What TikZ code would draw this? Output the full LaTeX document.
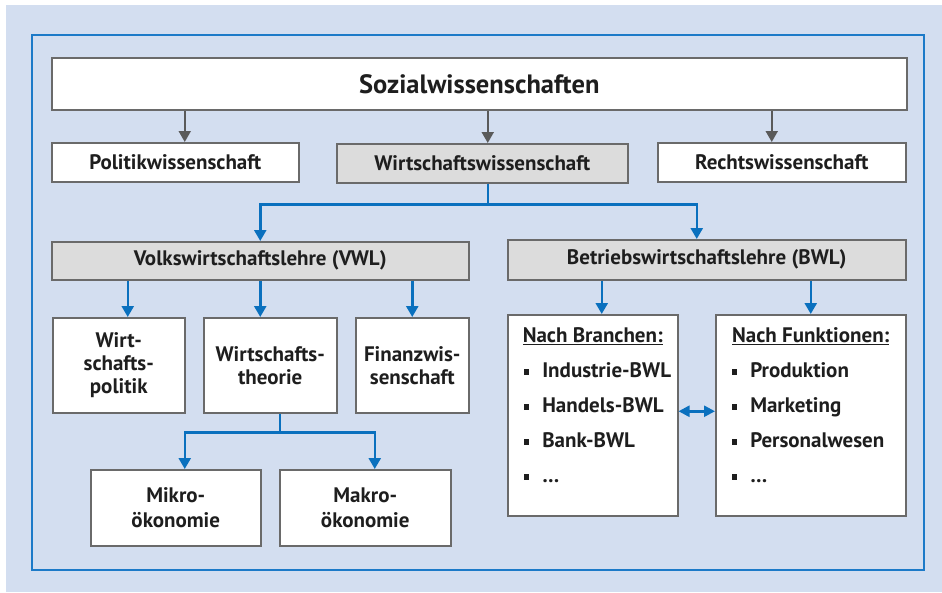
\documentclass[tikz,border=0pt]{standalone}
\usepackage{fontspec}
\setmainfont{PT Sans}
\usetikzlibrary{arrows.meta}

\definecolor{bgblue}{HTML}{D3DEF0}
\definecolor{frameblue}{HTML}{1C7AC8}
\definecolor{linkblue}{HTML}{0A70BE}
\definecolor{boxgray}{HTML}{6A6A6A}
\definecolor{arrowgray}{HTML}{5A5A5A}
\definecolor{fillgray}{HTML}{DCDCDC}
\definecolor{txtdark}{HTML}{1E1E1E}

% list entry with square bullet
\newcommand\listentry[1]{\hspace*{16pt}\rule[3pt]{5.5pt}{5.5pt}\hspace{13pt}\mbox{#1}\par}

\begin{document}
\begin{tikzpicture}[
    x=1pt, y=-1pt,
    box/.style={draw=boxgray, line width=1.5pt, fill=white, anchor=north west,
      inner sep=2pt, align=center, text=txtdark,
      font=\bfseries\fontsize{21}{23}\selectfont},
    graybox/.style={box, fill=fillgray},
    listbox/.style={box, inner sep=0pt, align=left,
      font=\bfseries\fontsize{21}{35}\selectfont},
    grayarrow/.style={draw=arrowgray, line width=2pt,
      -{Triangle[length=11pt,width=12pt]}},
    bluearrow/.style={draw=linkblue, line width=2.5pt,
      -{Triangle[length=11pt,width=12pt]}}
  ]
  \useasboundingbox (0,0) rectangle (942,592);

  % background and frame
  \fill [bgblue] (6,5) rectangle (942,592);
  \draw [frameblue, line width=1.5pt] (32,35) rectangle (924,570);

  % top levels
  \node [box, minimum width=855pt, minimum height=52pt,
    font=\bfseries\fontsize{26.5}{28}\selectfont] (soz) at (51,57) {Sozialwissenschaften};
  \node [box, minimum width=247pt, minimum height=39pt] (pol) at (51,142) {Politikwissenschaft};
  \node [graybox, minimum width=291pt, minimum height=39pt] (ww) at (336,143) {Wirtschaftswissenschaft};
  \node [box, minimum width=248pt, minimum height=39pt] (recht) at (657,142) {Rechtswissenschaft};

  \node [graybox, minimum width=417pt, minimum height=38pt] (vwl) at (51,241) {Volkswirtschaftslehre (VWL)};
  \node [graybox, minimum width=398pt, minimum height=40pt] (bwl) at (507,239) {Betriebswirtschaftslehre (BWL)};

  % VWL branches
  \node [box, minimum width=132pt, minimum height=95pt] (wpol) at (52,317) {Wirt-\\schafts-\\politik};
  \node [box, minimum width=133pt, minimum height=95pt] (wtheo) at (203,317) {Wirtschafts-\\theorie};
  \node [box, minimum width=113pt, minimum height=95pt] (finanz) at (355,317) {Finanzwis-\\senschaft};

  \node [box, minimum width=170pt, minimum height=76pt, font=\bfseries\fontsize{21}{25}\selectfont] (mikro) at (90,469) {Mikro-\\ökonomie};
  \node [box, minimum width=171pt, minimum height=76pt, font=\bfseries\fontsize{21}{25}\selectfont] (makro) at (279,469) {Makro-\\ökonomie};

  % BWL branches
  \node [listbox, minimum width=170pt, minimum height=201pt] (branchen) at (507,314) {%
    \begin{minipage}[t][201pt][t]{170pt}
      \vspace*{13pt}
      {\centering\underline{Nach Branchen:}\par}
      \listentry{Industrie-BWL}
      \listentry{Handels-BWL}
      \listentry{Bank-BWL}
      \listentry{\dots}
    \end{minipage}};
  \node [listbox, minimum width=190pt, minimum height=201pt] (funktionen) at (715,314) {%
    \begin{minipage}[t][201pt][t]{190pt}
      \vspace*{13pt}
      {\centering\underline{Nach Funktionen:}\par}
      \listentry{Produktion}
      \listentry{Marketing}
      \listentry{Personalwesen}
      \listentry{\dots}
    \end{minipage}};

  % gray arrows
  \draw [grayarrow] ([xshift=9.5pt]pol.north |- soz.south) -- ([xshift=9.5pt]pol.north);
  \draw [grayarrow] ([xshift=5.5pt]ww.north |- soz.south) -- ([xshift=5.5pt]ww.north);
  \draw [grayarrow] ([xshift=-10pt]recht.north |- soz.south) -- ([xshift=-10pt]recht.north);

  % blue connectors
  \draw [bluearrow] ([xshift=5.5pt]ww.south) -- ++(0,21) -| (vwl.north);
  \draw [bluearrow] ([xshift=5.5pt]ww.south) -- ++(0,21) -| ([xshift=-10pt]bwl.north);

  \draw [bluearrow] ([xshift=9pt]wpol.north |- vwl.south) -- ([xshift=9pt]wpol.north);
  \draw [bluearrow] ([xshift=-10pt]wtheo.north |- vwl.south) -- ([xshift=-10pt]wtheo.north);
  \draw [bluearrow] (finanz.north |- vwl.south) -- (finanz.north);

  \draw [bluearrow] ([xshift=9.5pt]wtheo.south) -- ++(0,19) -| ([xshift=9pt]mikro.north);
  \draw [bluearrow] ([xshift=9.5pt]wtheo.south) -- ++(0,19) -| ([xshift=9.5pt]makro.north);

  \draw [bluearrow] ([xshift=9pt]branchen.north |- bwl.south) -- ([xshift=9pt]branchen.north);
  \draw [bluearrow] (funktionen.north |- bwl.south) -- (funktionen.north);

  \draw [bluearrow, {Triangle[length=11pt,width=11pt]}-{Triangle[length=11pt,width=11pt]}]
    ([yshift=4pt]branchen.east) -- ([yshift=4pt]funktionen.west);
\end{tikzpicture}
\end{document}
